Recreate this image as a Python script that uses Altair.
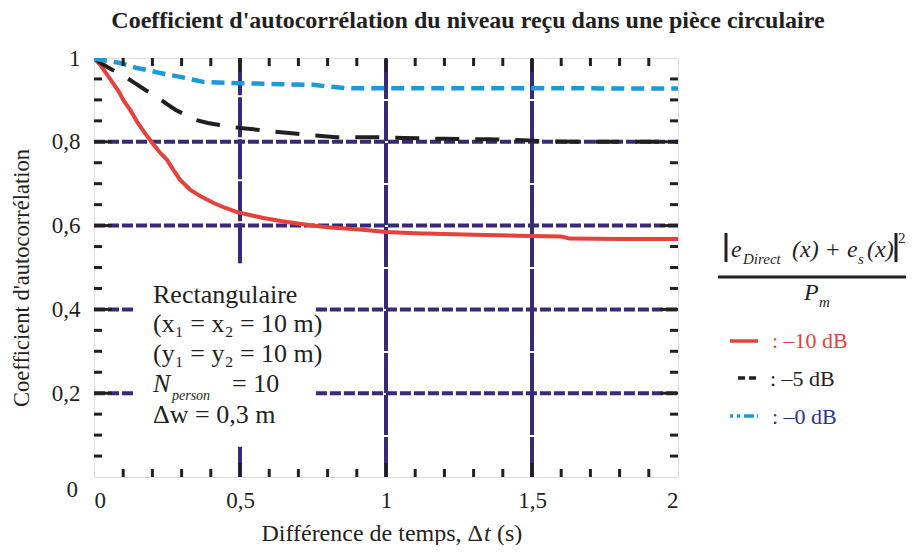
import altair as alt
import pandas as pd

# ---------------- data ----------------
red_x = [0, 0.02, 0.04, 0.065, 0.085, 0.1, 0.125, 0.15, 0.175, 0.2, 0.225, 0.25, 0.27, 0.295,
         0.33, 0.37, 0.41, 0.45, 0.49, 0.53, 0.58, 0.65, 0.74, 0.8, 0.92, 1.0, 1.1, 1.2, 1.3,
         1.45, 1.6, 1.63, 1.8, 2.0]
red_y = [1.0, 0.985, 0.965, 0.94, 0.92, 0.9, 0.875, 0.845, 0.82, 0.797, 0.775, 0.757, 0.735, 0.709,
         0.685, 0.668, 0.654, 0.642, 0.632, 0.626, 0.618, 0.61, 0.601, 0.596, 0.59, 0.585, 0.582, 0.58, 0.578,
         0.576, 0.574, 0.569, 0.568, 0.568]

black_x = [0, 0.03, 0.065, 0.1, 0.14, 0.18, 0.22, 0.25, 0.28, 0.32, 0.35, 0.39, 0.43, 0.5, 0.57,
           0.62, 0.695, 0.76, 0.83, 0.96, 1.06, 1.2, 1.35, 1.47, 1.55, 1.7, 2.0]
black_y = [1.0, 0.985, 0.971, 0.958, 0.94, 0.922, 0.905, 0.89, 0.876, 0.862, 0.852, 0.845, 0.84, 0.833, 0.828,
           0.824, 0.819, 0.815, 0.811, 0.811, 0.809, 0.807, 0.806, 0.804, 0.801, 0.8, 0.8]

blue_x = [0, 0.05, 0.09, 0.147, 0.19, 0.226, 0.295, 0.34, 0.373, 0.45, 0.5, 0.6, 0.75, 0.8, 0.866, 1.0, 1.5, 2.0]
blue_y = [0.998, 0.993, 0.988, 0.976, 0.97, 0.964, 0.955, 0.948, 0.943, 0.941, 0.94, 0.938, 0.936, 0.932,
          0.928, 0.928, 0.928, 0.927]

x_tick_values = [0, 0.5, 1, 1.5, 2]
y_tick_values = [0.2, 0.4, 0.6, 0.8, 1]
x_minor = [0.1, 0.2, 0.3, 0.4, 0.6, 0.7, 0.8, 0.9, 1.1, 1.2, 1.3, 1.4, 1.6, 1.7, 1.8, 1.9]
x_major = [0.5, 1, 1.5]
y_minor = [0.05, 0.1, 0.15, 0.25, 0.3, 0.35, 0.45, 0.5, 0.55, 0.65, 0.7, 0.75, 0.85, 0.9, 0.95]
y_major = [0.2, 0.4, 0.6, 0.8]

# grid segments (dashed lines, interrupted by the annotation box)
hgrid_y = [0.8, 0.6, 0.4, 0.4, 0.2, 0.2]
hgrid_x1 = [0, 0, 0, 0.76, 0, 0.76]
hgrid_x2 = [2, 2, 0.14, 2, 0.14, 2]
vgrid_x = [0.5, 0.5, 1, 1.5]
vgrid_y1 = [0.51, 0, 0, 0]
vgrid_y2 = [1, 0.072, 1, 1]

title_text = "Coefficient d'autocorrélation du niveau reçu dans une pièce circulaire"
y_title = "Coefficient d'autocorrélation"
legend_labels = [": \u201310 dB", ": \u20135 dB", ": \u20130 dB"]
box_lines = ["Rectangulaire", "(x\u2081 = x\u2082 = 10 m)", "(y\u2081 = y\u2082 = 10 m)"]

# ---------------- styles ----------------
W, H = 584, 419
FONT = "Liberation Serif"
INK = "#231f20"
GRID = "#3a2878"
RED = "#e8403a"
BLUE = "#1b9ad6"
NAVY = "#2e3192"

xs = alt.Scale(domain=[0, 2], nice=False, zero=False)
ys = alt.Scale(domain=[0, 1], nice=False, zero=False)
one = pd.DataFrame({"k": [0]})


def series(xv, yv, color, width, dash=None):
    df = pd.DataFrame({"x": xv, "y": yv})
    kw = dict(color=color, strokeWidth=width, clip=True)
    if dash:
        kw["strokeDash"] = dash
    return alt.Chart(df).mark_line(**kw).encode(
        x=alt.X("x:Q", scale=xs), y=alt.Y("y:Q", scale=ys))


def text(t, x, y, size=23, color=INK, align="left", baseline="alphabetic", style="normal",
         weight="normal", angle=None):
    kw = dict(text=t, font=FONT, fontSize=size, color=color, align=align, baseline=baseline,
              fontStyle=style, fontWeight=weight)
    if angle is not None:
        kw["angle"] = angle
    return alt.Chart(one).mark_text(**kw).encode(x=alt.value(x), y=alt.value(y))


def prule(x, y, x2=None, y2=None, color=INK, width=3, dash=None):
    enc = dict(x=alt.value(x), y=alt.value(y))
    if x2 is not None:
        enc["x2"] = alt.value(x2)
    if y2 is not None:
        enc["y2"] = alt.value(y2)
    kw = dict(color=color, strokeWidth=width)
    if dash:
        kw["strokeDash"] = dash
    return alt.Chart(one).mark_rule(**kw).encode(**enc)


label_expr = "replace(format(datum.value, '.1~f'), '.', ',')"

# base with axes
base = alt.Chart(pd.DataFrame({"x": [0], "y": [0]})).mark_point(opacity=0).encode(
    x=alt.X("x:Q", scale=xs, axis=alt.Axis(values=x_tick_values, labelExpr=label_expr, title=None,
                                          ticks=False, domain=False, grid=False, labelPadding=12,
                                          labelFont=FONT, labelFontSize=23, labelColor=INK)),
    y=alt.Y("y:Q", scale=ys, axis=alt.Axis(values=y_tick_values, labelExpr=label_expr, title=None,
                                          ticks=False, domain=False, grid=False, labelPadding=14,
                                          labelFont=FONT, labelFontSize=23, labelColor=INK)),
)

hgrid = alt.Chart(pd.DataFrame({"y": hgrid_y, "x1": hgrid_x1, "x2": hgrid_x2})).mark_rule(
    color=GRID, strokeWidth=4, strokeDash=[11, 3]).encode(
    x=alt.X("x1:Q", scale=xs), x2="x2:Q", y=alt.Y("y:Q", scale=ys))
vgrid = alt.Chart(pd.DataFrame({"x": vgrid_x, "y1": vgrid_y1, "y2": vgrid_y2})).mark_rule(
    color=GRID, strokeWidth=4, strokeDash=[40, 2]).encode(
    x=alt.X("x:Q", scale=xs), y=alt.Y("y1:Q", scale=ys), y2="y2:Q")

red = series(red_x, red_y, RED, 4)
black = series(black_x, black_y, INK, 4, [24, 16])
blue = series(blue_x, blue_y, BLUE, 4.5, [13, 7])


def xticks(vals, length):
    d = pd.DataFrame({"x": vals})
    b = alt.Chart(d).mark_rule(color=INK, strokeWidth=3)
    return (b.encode(x=alt.X("x:Q", scale=xs), y=alt.value(H - length), y2=alt.value(H)) +
            b.encode(x=alt.X("x:Q", scale=xs), y=alt.value(0), y2=alt.value(length)))


def yticks(vals, length):
    d = pd.DataFrame({"y": vals})
    b = alt.Chart(d).mark_rule(color=INK, strokeWidth=3)
    return (b.encode(y=alt.Y("y:Q", scale=ys), x=alt.value(0), x2=alt.value(length)) +
            b.encode(y=alt.Y("y:Q", scale=ys), x=alt.value(W - length), x2=alt.value(W)))


ticks = xticks(x_minor, 8) + xticks(x_major, 14) + yticks(y_minor, 8) + yticks(y_major, 18)

zero_label = alt.Chart(pd.DataFrame({"x": [0], "y": [0], "t": ["0"]})).mark_text(
    font=FONT, fontSize=23, color=INK, align="right", baseline="middle", dx=-16, dy=13).encode(
    x=alt.X("x:Q", scale=xs), y=alt.Y("y:Q", scale=ys), text="t:N")

annots = [
    text(title_text, 374, -30, size=24, weight="bold", align="center"),
    text(y_title, -72, 220, size=22.5, align="center", baseline="middle", angle=270),
    text("Différence de temps, \u0394", 389, 483, size=24, align="right"),
    text("t", 390, 483, size=24, style="italic"),
    text("(s)", 403, 483, size=24),
    # annotation box
    text(box_lines[0], 59, 245, size=26),
    text(box_lines[1], 59, 274, size=26),
    text(box_lines[2], 59, 304, size=26),
    text("N", 59, 334, size=26, style="italic"),
    text("person", 78, 342, size=14, style="italic"),
    text("= 10", 138, 334, size=26),
    text("\u0394w = 0,3 m", 59, 365, size=26),
    # formula (|e_Direct(x) + e_s(x)|^2 / P_m)
    prule(632, 175, y2=204, width=3),
    text("e", 637, 199, size=24, style="italic"),
    text("Direct", 649, 206, size=15, style="italic"),
    text("(x)", 698, 199, size=24, style="italic"),
    text("+", 732, 199, size=24),
    text("e", 753, 199, size=24, style="italic"),
    text("s", 764, 206, size=15, style="italic"),
    text("(x)", 773, 199, size=24, style="italic"),
    prule(802, 175, y2=204, width=3),
    text("2", 804, 185, size=15),
    prule(624, 219, x2=812, width=3),
    text("P", 710, 242, size=24, style="italic"),
    text("m", 725, 249, size=15, style="italic"),
    # legend
    prule(636, 283, x2=664, color=RED, width=3.5),
    text(legend_labels[0], 678, 290, size=22, color=RED),
    prule(644, 320, x2=663, width=3.5, dash=[7, 4]),
    text(legend_labels[1], 676, 328, size=22, color=INK),
    prule(636, 358, x2=664, color=BLUE, width=3.5, dash=[3, 4, 3, 4, 10]),
    text(legend_labels[2], 678, 366, size=22, color=NAVY),
]

chart = alt.layer(base, hgrid, vgrid, red, black, blue, ticks, zero_label, *annots).properties(
    width=W, height=H,
    autosize=alt.AutoSizeParams(type="none"),
    padding={"left": 86, "top": 50, "right": 228, "bottom": 68},
).configure_view(stroke=INK, strokeWidth=4).configure(background="white")

chart.save("out.html", embed_options={"renderer": "svg", "actions": False})
